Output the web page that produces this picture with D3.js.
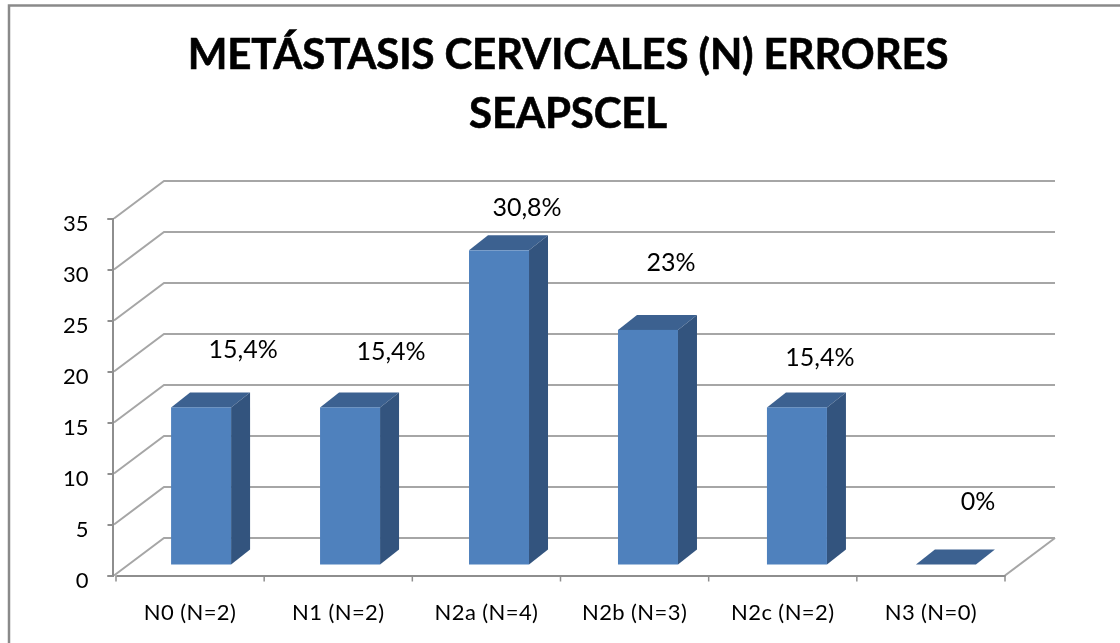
<!DOCTYPE html>
<html><head><meta charset="utf-8">
<script src="https://cdn.jsdelivr.net/npm/d3@7/dist/d3.min.js"></script>
<style>html,body{margin:0;padding:0;background:#fff}svg{display:block;filter:blur(0.45px)}text{font-family:Lato,sans-serif;fill:#000}</style>
</head><body><svg id="c" width="1120" height="643"></svg>
<script>
const titleLines = ["METÁSTASIS CERVICALES (N) ERRORES", "SEAPSCEL"];
const categories = ["N0 (N=2)", "N1 (N=2)", "N2a (N=4)", "N2b (N=3)", "N2c (N=2)", "N3 (N=0)"];
const values = [15.4, 15.4, 30.8, 23, 15.4, 0];
const valueLabels = ["15,4%", "15,4%", "30,8%", "23%", "15,4%", "0%"];
const yTicks = [0, 5, 10, 15, 20, 25, 30, 35];

// layout only
const labelLift = [49, 47, 34, 59, 41, 55];
const labelShift = [42, 41, 28, 23, 23, 32];
const floorDx = 50, floorDy = -37.5;
const barDepthDx = 19, barDepthDy = -15, barInsetDx = 11, barInsetDy = -11, barW = 60, barDrift = 0.8;

const svg = d3.select("#c");
const x = d3.scaleBand().domain(categories).range([116, 1005]);
const y = d3.scaleLinear().domain([0, 35]).range([575.5, 218.5]);
const gridC = "#a6a6a6";

svg.append("path")
  .attr("d", "M9,643V5.5H1120").attr("fill", "none").attr("stroke", "#8a8a8a").attr("stroke-width", 2.5);

svg.append("g").selectAll("text").data(titleLines).join("text")
  .attr("x", 568).attr("y", (d, i) => 69 + i * 59).attr("text-anchor", "middle")
  .attr("font-size", 42).attr("font-weight", 700).attr("letter-spacing", -0.15)
  .attr("stroke", "#000").attr("stroke-width", 0.6).text(d => d);

// walls' gridlines
const grid = svg.append("g").attr("fill", "none").attr("stroke", gridC).attr("stroke-width", 2);
grid.selectAll("path").data(yTicks).join("path")
  .attr("d", d => `M${x.range()[0]-2},${y(d)}L${x.range()[0]-2+floorDx},${y(d)+floorDy}H${x.range()[1]+floorDx}`);
grid.append("path").attr("d", `M${x.range()[1]},${y(0)}L${x.range()[1]+floorDx},${y(0)+floorDy}`);

// axes
const axC = "#8e8e8e";
const yAxis = svg.append("g").attr("transform", "translate(112.5,0)")
  .call(d3.axisLeft(y).tickValues(yTicks).tickSize(5).tickPadding(19));
yAxis.selectAll("path,line").attr("stroke", axC).attr("stroke-width", 2);
yAxis.selectAll("text").attr("font-size", 22).attr("font-family", "Lato").attr("dy", "0.55em");

const xAxis = svg.append("g").attr("transform", `translate(0,${y(0)})`)
  .call(d3.axisBottom(x).tickSize(0).tickPadding(29));
xAxis.select("path").attr("stroke", axC).attr("stroke-width", 2);
xAxis.selectAll("text").attr("font-size", 22).attr("letter-spacing", 0.4).attr("font-family", "Lato");
svg.append("g").selectAll("line").data(d3.range(categories.length + 1)).join("line")
  .attr("x1", i => x.range()[0] + i * x.step()).attr("x2", i => x.range()[0] + i * x.step())
  .attr("y1", y(0)).attr("y2", y(0) + 6).attr("stroke", axC).attr("stroke-width", 1.5);

// bars
const bars = svg.append("g").selectAll("g").data(categories).join("g");
const bx = c => x(c) + x.bandwidth() / 2 + barInsetDx - barW / 2 + categories.indexOf(c) * barDrift;
const base = y(0) + barInsetDy;
const h = v => y(0) - y(v);
bars.append("path").attr("fill", "#3c6190")
  .attr("d", (c, i) => { const l = bx(c), t = base - h(values[i]);
    return `M${l},${t}l${barDepthDx},${barDepthDy}h${barW}l${-barDepthDx},${-barDepthDy}z`; });
bars.append("path").attr("fill", "#33547e")
  .attr("d", (c, i) => { const r = bx(c) + barW, t = base - h(values[i]);
    return `M${r},${t}l${barDepthDx},${barDepthDy}V${base + barDepthDy}l${-barDepthDx},${-barDepthDy}z`; });
bars.filter((c, i) => values[i] > 0).append("rect").attr("fill", "#4f81bd")
  .attr("x", bx).attr("width", barW)
  .attr("y", (c) => base - h(values[categories.indexOf(c)]))
  .attr("height", c => h(values[categories.indexOf(c)]));

// data labels
svg.append("g").selectAll("text").data(valueLabels).join("text")
  .attr("x", (d, i) => bx(categories[i]) + barW / 2 + labelShift[i])
  .attr("y", (d, i) => base - h(values[i]) - labelLift[i])
  .attr("text-anchor", "middle").attr("font-size", 25).text(d => d);
</script></body></html>
